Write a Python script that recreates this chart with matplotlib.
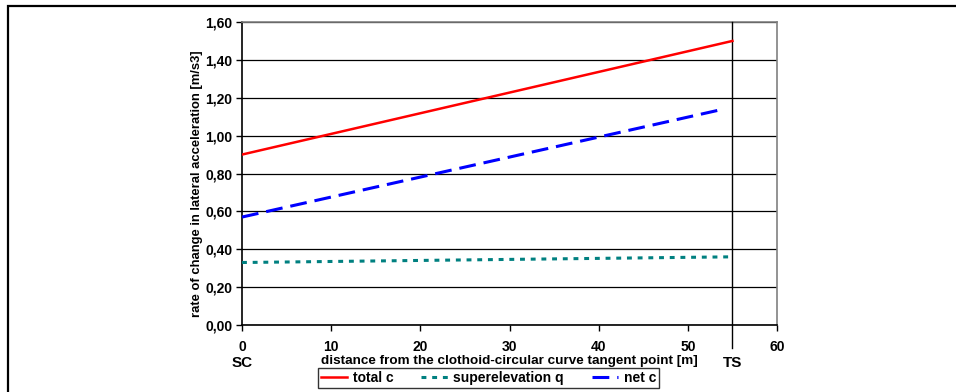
import matplotlib
matplotlib.use("Agg")
import matplotlib.pyplot as plt
from matplotlib.lines import Line2D
from matplotlib.ticker import FuncFormatter

plt.rcParams['font.family'] = ['Liberation Sans', 'DejaVu Sans']
plt.rcParams['font.weight'] = 'bold'

# data
dist_total = [0, 55]
total_c = [0.90, 1.50]
dist_super = [0, 55]
super_q = [0.33, 0.36]
dist_net = [0, 54]
net_c = [0.57, 1.14]
ts_pos = 55
x_ticks = [0, 10, 20, 30, 40, 50, 60]
y_ticks = [0.0, 0.2, 0.4, 0.6, 0.8, 1.0, 1.2, 1.4, 1.6]

W, H = 956, 392
fig = plt.figure(figsize=(W/100, H/100), dpi=100)
ax = fig.add_axes([242/W, 1-325/H, (777-242)/W, (325-22)/H])

ax.plot(dist_total, total_c, color='#ff0000', lw=1.8, label='total c', zorder=4)
ax.plot(dist_super, super_q, color='#008080', lw=2.2, linestyle=(0, (1.6, 1.9)), label='superelevation q', zorder=4)
ax.plot(dist_net, net_c, color='#0000ff', lw=2.2, linestyle=(0, (5.5, 2.6)), label='net c', zorder=4)

ax.set_xlim(0, 60)
ax.set_ylim(0, 1.6)
ax.set_xticks(x_ticks)
ax.set_yticks(y_ticks)
ax.yaxis.set_major_formatter(FuncFormatter(lambda v, p: f"{v:.2f}".replace('.', ',')))
ax.grid(axis='y', color='black', lw=0.9)
ax.set_axisbelow(True)
for s in ['top', 'right']:
    ax.spines[s].set_color('#808080')
    ax.spines[s].set_linewidth(1.2)
for s in ['left', 'bottom']:
    ax.spines[s].set_color('black')
    ax.spines[s].set_linewidth(1.2)
ax.tick_params(axis='both', direction='out', length=4, width=1, labelsize=10, color='black')
ax.tick_params(axis='x', pad=7)
ax.tick_params(axis='y', pad=3)

ax.axvline(ts_pos, ymin=-23/303, ymax=1, color='black', lw=1.0, clip_on=False, zorder=3)

ax.set_xlabel('distance from the clothoid-circular curve tangent point [m]', fontsize=9.7, fontweight='bold')
ax.xaxis.set_label_coords(0.5, -(361-325)/303)
ax.xaxis.label.set_va('center')
ax.set_ylabel('rate of change in lateral acceleration [m/s3]', fontsize=9.4, fontweight='bold')
ax.yaxis.set_label_coords(-(242-197)/535, 0.465)
ax.yaxis.label.set_va('center')

tr = ax.get_xaxis_transform()
ax.text(0, -(363-325)/303, 'SC', transform=tr, ha='center', va='center', fontsize=11, fontweight='bold')
ax.text(ts_pos, -(363-325)/303, 'TS', transform=tr, ha='center', va='center', fontsize=11, fontweight='bold')

leg = fig.legend(loc='center', bbox_to_anchor=((318+659)/2/W, 1-378/H), ncol=3,
                 frameon=True, fancybox=False, fontsize=10, handlelength=1.9,
                 columnspacing=2.0, handletextpad=0.4, borderpad=0.2)
leg.get_frame().set_edgecolor('black')
leg.get_frame().set_linewidth(1.0)

# outer border (top and left)
fig.add_artist(Line2D([7.5/W, 7.5/W, 1], [0, 1-5.5/H, 1-5.5/H], transform=fig.transFigure,
                      color='black', lw=1.6, solid_joinstyle='miter'))

fig.savefig('out.png', dpi=100)
